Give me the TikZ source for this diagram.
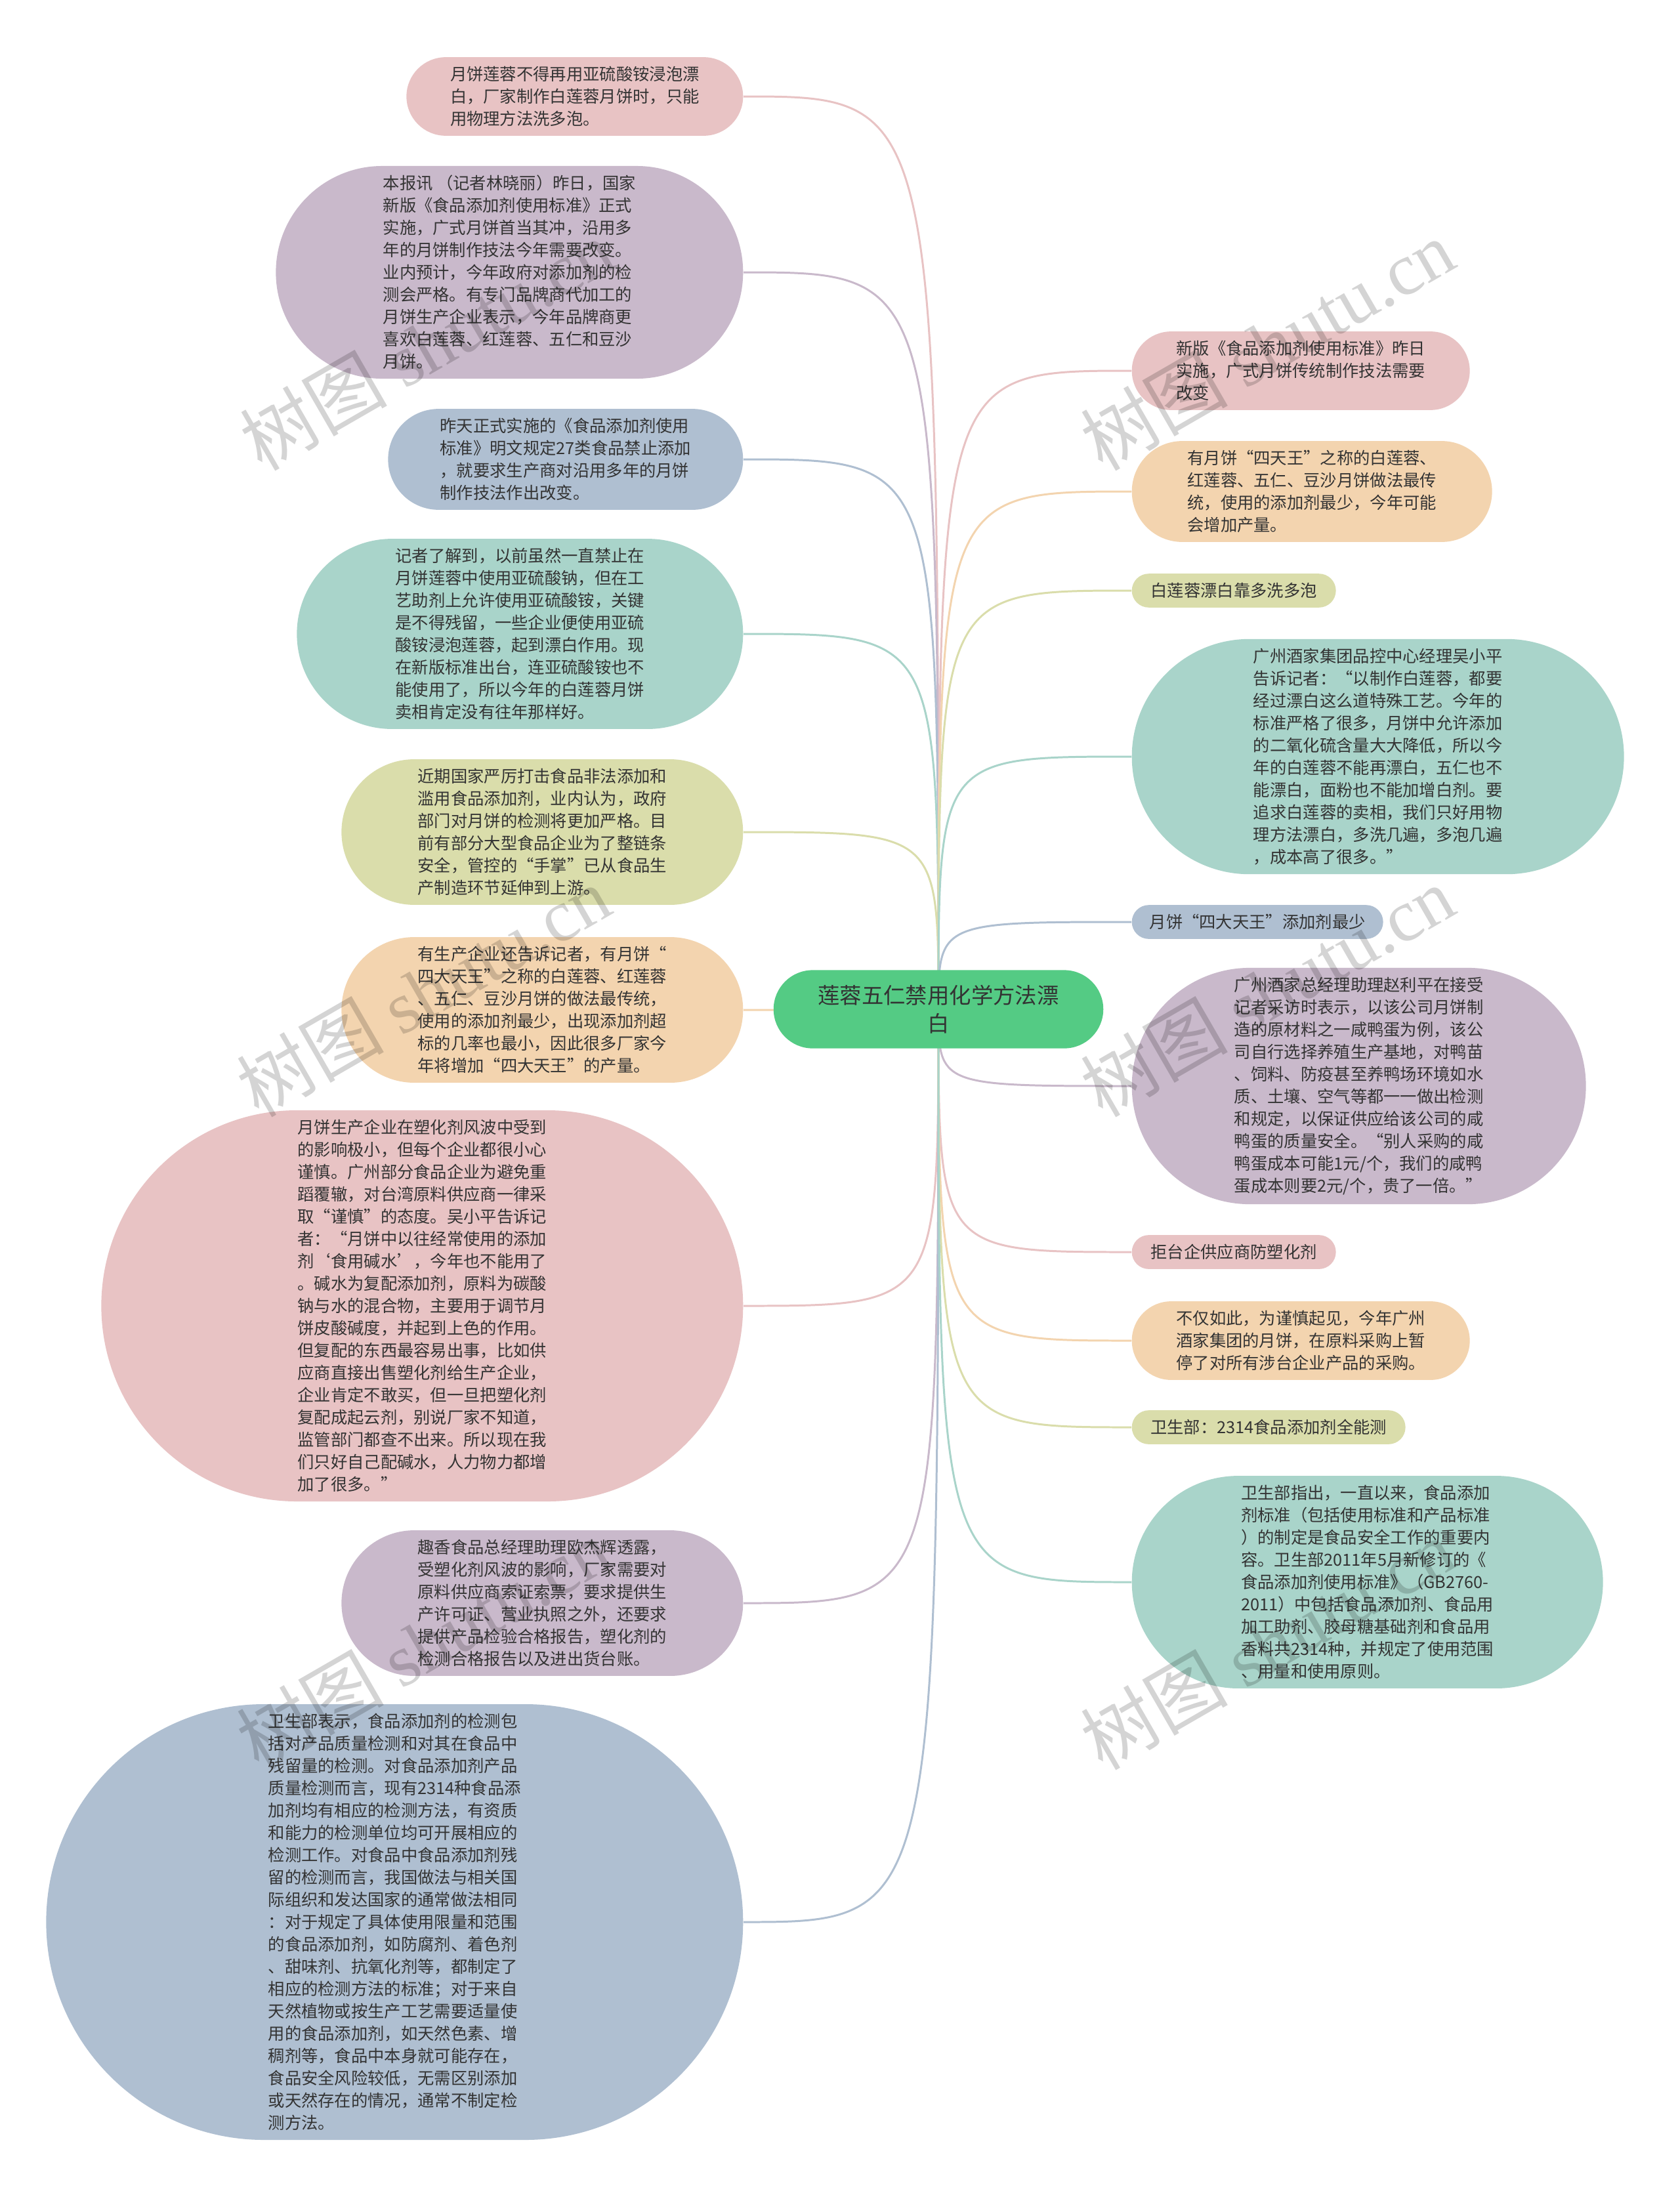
\documentclass[tikz,border=0pt]{standalone}
\usepackage{fontspec}
\setmainfont{Noto Sans CJK SC}
\newfontfamily\wmfont{Liberation Serif}
\usetikzlibrary{shapes.misc, backgrounds}

\definecolor{pinkfill}{HTML}{E8C3C4}
\definecolor{purplefill}{HTML}{C9B9CB}
\definecolor{bluefill}{HTML}{AFBFD1}
\definecolor{tealfill}{HTML}{A9D4CA}
\definecolor{olivefill}{HTML}{DADDAB}
\definecolor{beigefill}{HTML}{F3D4AF}
\definecolor{rootfill}{HTML}{54CB84}
\definecolor{textgray}{HTML}{333333}

\begin{document}
\begin{tikzpicture}[
    topic/.style={rounded rectangle, fill=#1, text=textgray, inner xsep=2pt, inner ysep=4pt,
        align=left, font=\fontsize{7.2pt}{9.68pt}\selectfont},
    maintopic/.style={rounded rectangle, fill=rootfill, text=textgray, inner xsep=3.2pt, inner ysep=6.5pt,
        minimum width=5.25cm, align=center, font=\fontsize{9.5pt}{12.1pt}\selectfont},
    link/.style={draw=#1, line width=0.85pt},
    watermark/.style={rotate=30, text=black, opacity=0.17, text opacity=0.17,
        font=\fontsize{32pt}{36pt}\selectfont}
]
\useasboundingbox (0,0) rectangle (25.6,-33.45);

% centro
\node[maintopic] (c) at (14.30,-15.38) {莲蓉五仁禁用化学方法漂\\白};

% ramos da esquerda
\node[topic=pinkfill, anchor=east, minimum width=5.27cm] (l1) at (11.33,-1.47) {月饼莲蓉不得再用亚硫酸铵浸泡漂\\白，厂家制作白莲蓉月饼时，只能\\用物理方法洗多泡。};
\node[topic=purplefill, anchor=east, minimum width=7.26cm] (l2) at (11.33,-4.15) {本报讯 （记者林晓丽）昨日，国家\\新版《食品添加剂使用标准》正式\\实施，广式月饼首当其冲，沿用多\\年的月饼制作技法今年需要改变。\\业内预计，今年政府对添加剂的检\\测会严格。有专门品牌商代加工的\\月饼生产企业表示，今年品牌商更\\喜欢白莲蓉、红莲蓉、五仁和豆沙\\月饼。};
\node[topic=bluefill, anchor=east, minimum width=5.55cm] (l3) at (11.33,-7.00) {昨天正式实施的《食品添加剂使用\\标准》明文规定27类食品禁止添加\\，就要求生产商对沿用多年的月饼\\制作技法作出改变。};
\node[topic=tealfill, anchor=east, minimum width=6.94cm] (l4) at (11.33,-9.66) {记者了解到，以前虽然一直禁止在\\月饼莲蓉中使用亚硫酸钠，但在工\\艺助剂上允许使用亚硫酸铵，关键\\是不得残留，一些企业便使用亚硫\\酸铵浸泡莲蓉，起到漂白作用。现\\在新版标准出台，连亚硫酸铵也不\\能使用了，所以今年的白莲蓉月饼\\卖相肯定没有往年那样好。};
\node[topic=olivefill, anchor=east, minimum width=6.26cm] (l5) at (11.33,-12.68) {近期国家严厉打击食品非法添加和\\滥用食品添加剂，业内认为，政府\\部门对月饼的检测将更加严格。目\\前有部分大型食品企业为了整链条\\安全，管控的“手掌”已从食品生\\产制造环节延伸到上游。};
\node[topic=beigefill, anchor=east, minimum width=6.26cm] (l6) at (11.33,-15.39) {有生产企业还告诉记者，有月饼“\\四大天王”之称的白莲蓉、红莲蓉\\、五仁、豆沙月饼的做法最传统，\\使用的添加剂最少，出现添加剂超\\标的几率也最小，因此很多厂家今\\年将增加“四大天王”的产量。};
\node[topic=pinkfill, anchor=east, minimum width=9.92cm] (l7) at (11.33,-19.90) {月饼生产企业在塑化剂风波中受到\\的影响极小，但每个企业都很小心\\谨慎。广州部分食品企业为避免重\\蹈覆辙，对台湾原料供应商一律采\\取“谨慎”的态度。吴小平告诉记\\者：“月饼中以往经常使用的添加\\剂‘食用碱水’，今年也不能用了\\。碱水为复配添加剂，原料为碳酸\\钠与水的混合物，主要用于调节月\\饼皮酸碱度，并起到上色的作用。\\但复配的东西最容易出事，比如供\\应商直接出售塑化剂给生产企业，\\企业肯定不敢买，但一旦把塑化剂\\复配成起云剂，别说厂家不知道，\\监管部门都查不出来。所以现在我\\们只好自己配碱水，人力物力都增\\加了很多。”};
\node[topic=purplefill, anchor=east, minimum width=6.26cm] (l8) at (11.33,-24.43) {趣香食品总经理助理欧杰辉透露，\\受塑化剂风波的影响，厂家需要对\\原料供应商索证索票，要求提供生\\产许可证、营业执照之外，还要求\\提供产品检验合格报告，塑化剂的\\检测合格报告以及进出货台账。};
\node[topic=bluefill, anchor=east, minimum width=10.76cm] (l9) at (11.33,-29.29) {卫生部表示，食品添加剂的检测包\\括对产品质量检测和对其在食品中\\残留量的检测。对食品添加剂产品\\质量检测而言，现有2314种食品添\\加剂均有相应的检测方法，有资质\\和能力的检测单位均可开展相应的\\检测工作。对食品中食品添加剂残\\留的检测而言，我国做法与相关国\\际组织和发达国家的通常做法相同\\：对于规定了具体使用限量和范围\\的食品添加剂，如防腐剂、着色剂\\、甜味剂、抗氧化剂等，都制定了\\相应的检测方法的标准；对于来自\\天然植物或按生产工艺需要适量使\\用的食品添加剂，如天然色素、增\\稠剂等，食品中本身就可能存在，\\食品安全风险较低，无需区别添加\\或天然存在的情况，通常不制定检\\测方法。};

% ramos da direita
\node[topic=pinkfill, anchor=west, minimum width=5.29cm] (r1) at (17.24,-5.65) {新版《食品添加剂使用标准》昨日\\实施，广式月饼传统制作技法需要\\改变};
\node[topic=beigefill, anchor=west, minimum width=5.63cm] (r2) at (17.24,-7.49) {有月饼“四天王”之称的白莲蓉、\\红莲蓉、五仁、豆沙月饼做法最传\\统，使用的添加剂最少，今年可能\\会增加产量。};
\node[topic=olivefill, anchor=west, minimum width=3.25cm] (r3) at (17.24,-9.00) {白莲蓉漂白靠多洗多泡};
\node[topic=tealfill, anchor=west, minimum width=7.64cm] (r4) at (17.24,-11.53) {广州酒家集团品控中心经理吴小平\\告诉记者：“以制作白莲蓉，都要\\经过漂白这么道特殊工艺。今年的\\标准严格了很多，月饼中允许添加\\的二氧化硫含量大大降低，所以今\\年的白莲蓉不能再漂白，五仁也不\\能漂白，面粉也不能加增白剂。要\\追求白莲蓉的卖相，我们只好用物\\理方法漂白，多洗几遍，多泡几遍\\，成本高了很多。”};
\node[topic=bluefill, anchor=west, minimum width=3.97cm] (r5) at (17.24,-14.05) {月饼“四大天王”添加剂最少};
\node[topic=purplefill, anchor=west, minimum width=7.06cm] (r6) at (17.24,-16.55) {广州酒家总经理助理赵利平在接受\\记者采访时表示，以该公司月饼制\\造的原材料之一咸鸭蛋为例，该公\\司自行选择养殖生产基地，对鸭苗\\、饲料、防疫甚至养鸭场环境如水\\质、土壤、空气等都一一做出检测\\和规定，以保证供应给该公司的咸\\鸭蛋的质量安全。“别人采购的咸\\鸭蛋成本可能1元/个，我们的咸鸭\\蛋成本则要2元/个，贵了一倍。”};
\node[topic=pinkfill, anchor=west, minimum width=3.25cm] (r7) at (17.24,-19.08) {拒台企供应商防塑化剂};
\node[topic=beigefill, anchor=west, minimum width=5.29cm] (r8) at (17.24,-20.43) {不仅如此，为谨慎起见，今年广州\\酒家集团的月饼，在原料采购上暂\\停了对所有涉台企业产品的采购。};
\node[topic=olivefill, anchor=west, minimum width=4.31cm] (r9) at (17.24,-21.75) {卫生部：2314食品添加剂全能测};
\node[topic=tealfill, anchor=west, minimum width=7.32cm] (r10) at (17.24,-24.11) {卫生部指出，一直以来，食品添加\\剂标准（包括使用标准和产品标准\\）的制定是食品安全工作的重要内\\容。卫生部2011年5月新修订的《\\食品添加剂使用标准》（GB2760-\\2011）中包括食品添加剂、食品用\\加工助剂、胶母糖基础剂和食品用\\香料共2314种，并规定了使用范围\\、用量和使用原则。};

% ligacoes
\begin{scope}[on background layer]
    \fill[white] (0,0) rectangle (25.6,-33.45);
    \foreach \n/\c in {l1/pinkfill, l2/purplefill, l3/bluefill, l4/tealfill, l5/olivefill,
                       l6/beigefill, l7/pinkfill, l8/purplefill, l9/bluefill} {
        \draw[link=\c] (c.center) .. controls (c.center |- \n.east) .. (\n.east);
    }
    \foreach \n/\c in {r1/pinkfill, r2/beigefill, r3/olivefill, r4/tealfill, r5/bluefill,
                       r6/purplefill, r7/pinkfill, r8/beigefill, r9/olivefill, r10/tealfill} {
        \draw[link=\c] (c.center) .. controls (c.center |- \n.west) .. (\n.west);
    }
\end{scope}

% marca d'agua
\node[watermark] (wm1) at (6.50,-5.25) {树图 {\wmfont shutu.cn}};
\node[watermark] (wm2) at (19.31,-5.25) {树图 {\wmfont shutu.cn}};
\node[watermark] (wm3) at (6.45,-15.10) {树图 {\wmfont shutu.cn}};
\node[watermark] (wm4) at (19.31,-15.10) {树图 {\wmfont shutu.cn}};
\node[watermark] (wm5) at (6.45,-25.05) {树图 {\wmfont shutu.cn}};
\node[watermark] (wm6) at (19.31,-25.05) {树图 {\wmfont shutu.cn}};
\end{tikzpicture}
\end{document}
